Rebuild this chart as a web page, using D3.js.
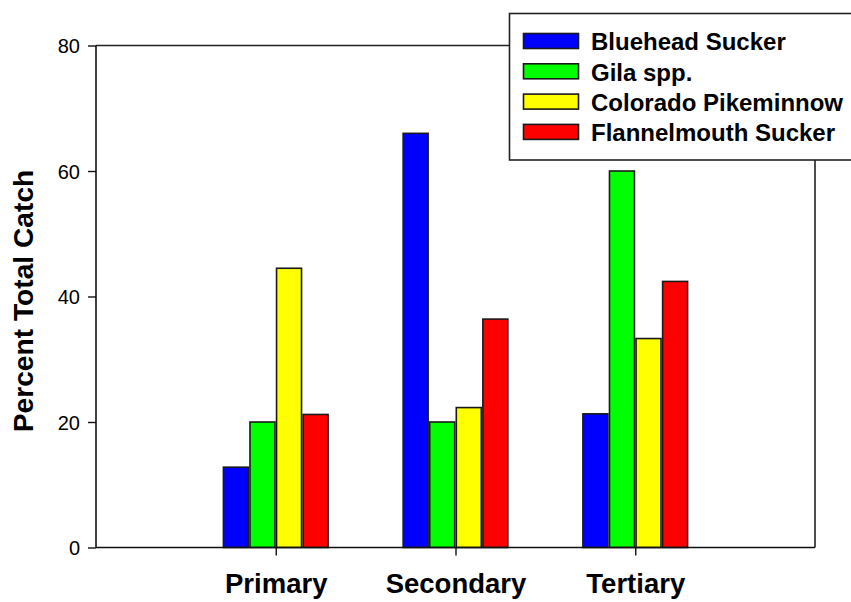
<!DOCTYPE html>
<html>
<head>
<meta charset="utf-8">
<script src="https://cdn.jsdelivr.net/npm/d3@7"></script>
<style>
html, body { margin: 0; padding: 0; background: #fff; }
svg { display: block; }
text { font-family: "Liberation Sans", Arial, sans-serif; fill: #000; }
</style>
</head>
<body>
<svg id="chart" width="851" height="602"></svg>
<script>
const categories = ["Primary", "Secondary", "Tertiary"];
const seriesNames = ["Bluehead Sucker", "Gila spp.", "Colorado Pikeminnow", "Flannelmouth Sucker"];
const seriesColors = ["#0000ff", "#00ff00", "#ffff00", "#ff0000"];
const bluehead = [12.8, 66.0, 21.3];
const gila = [20.0, 20.0, 60.0];
const pikeminnow = [44.5, 22.3, 33.3];
const flannelmouth = [21.2, 36.4, 42.4];
const yTicks = [0, 20, 40, 60, 80];

const seriesValues = [bluehead, gila, pikeminnow, flannelmouth];

const svg = d3.select("#chart");
const mLeft = 96, mRight = 815, mTop = 45.5, mBottom = 547.5;

const x = d3.scaleLinear().domain([0, 4]).range([mLeft, mRight]);
const y = d3.scaleLinear().domain([0, 80]).range([mBottom, mTop]);

const slot = 0.1478;       // bar slot width in x-units
const gapPx = 1.6;

// Frame (top and right)
svg.append("path")
  .attr("d", `M${mLeft},${mTop}H${mRight}V${mBottom}`)
  .attr("fill", "none").attr("stroke", "#222").attr("stroke-width", 1.6);

// Bars
const g = svg.append("g");
seriesValues.forEach((vals, si) => {
  vals.forEach((v, ci) => {
    const cx = ci + 1;
    const x0 = x(cx - 2 * slot + si * slot);
    const x1 = x(cx - 2 * slot + (si + 1) * slot);
    g.append("rect")
      .attr("x", x0 + 0.8)
      .attr("y", y(v))
      .attr("width", x1 - x0 - gapPx)
      .attr("height", y(0) - y(v))
      .attr("fill", seriesColors[si])
      .attr("stroke", "#1a1a1a")
      .attr("stroke-width", 1.6);
  });
});

// Y axis
const yAxis = d3.axisLeft(y).tickValues(yTicks).tickSize(8).tickPadding(8).tickFormat(d3.format("d"));
const ya = svg.append("g").attr("transform", `translate(${mLeft},0)`).call(yAxis);
ya.select(".domain").attr("stroke", "#111").attr("stroke-width", 1.6).attr("d", `M0,${mBottom}V${mTop}`);
ya.selectAll(".tick line").attr("stroke", "#111").attr("stroke-width", 1.4);
ya.selectAll(".tick text").style("font-size", "20px").style("font-family", "'Liberation Sans', Arial, sans-serif").attr("fill", "#000").attr("dy", "0.35em");

// X axis
const xAxis = d3.axisBottom(x).tickValues([1, 2, 3]).tickSize(8).tickPadding(20)
  .tickFormat((d) => categories[d - 1]);
const xa = svg.append("g").attr("transform", `translate(0,${mBottom})`).call(xAxis);
xa.select(".domain").attr("stroke", "#111").attr("stroke-width", 1.6).attr("d", `M${mLeft},0H${mRight}`);
xa.selectAll(".tick line").attr("stroke", "#111").attr("stroke-width", 1.4);
xa.selectAll(".tick text")
  .style("font-size", "27.5px").style("font-weight", "bold")
  .style("font-family", "'Liberation Sans', Arial, sans-serif")
  .attr("fill", "#000").attr("dy", null).attr("y", 45.5);

// Y title
svg.append("text")
  .attr("transform", `translate(33,301) rotate(-90)`)
  .attr("text-anchor", "middle")
  .style("font-size", "28.2px").style("font-weight", "bold")
  .text("Percent Total Catch");

// Legend
const leg = svg.append("g");
leg.append("rect")
  .attr("x", 509.5).attr("y", 13.5).attr("width", 360).attr("height", 146.5)
  .attr("fill", "#fff").attr("stroke", "#222").attr("stroke-width", 1.6);
seriesNames.forEach((name, i) => {
  const yy = 33.5 + i * 30.3;
  leg.append("rect")
    .attr("x", 523.5).attr("y", yy).attr("width", 55).attr("height", 15)
    .attr("fill", seriesColors[i]).attr("stroke", "#1a1a1a").attr("stroke-width", 1.6);
  leg.append("text")
    .attr("x", 591).attr("y", yy + 16.7)
    .style("font-size", "24px").style("font-weight", "bold")
    .text(name);
});
</script>
</body>
</html>
